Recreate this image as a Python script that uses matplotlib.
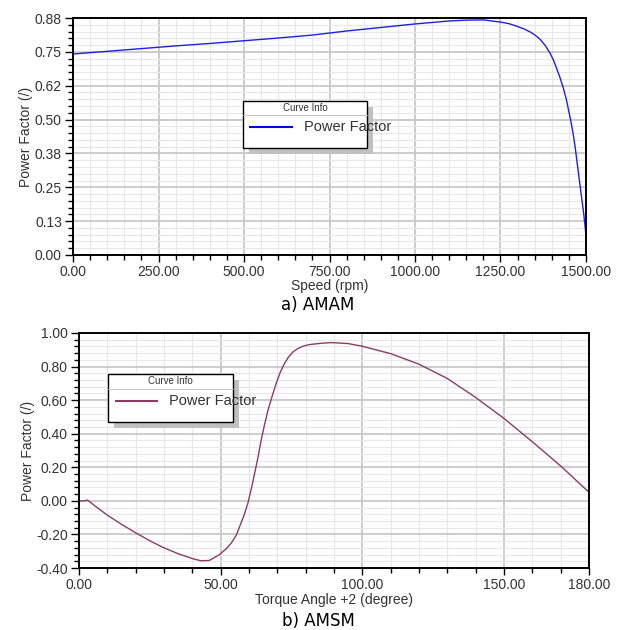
""" Power factor curves - AMAM vs AMSM """
import matplotlib
matplotlib.use('Agg')
import matplotlib.pyplot as plt
from matplotlib.patches import Rectangle
from matplotlib.lines import Line2D
from matplotlib.ticker import MultipleLocator

# a) AMAM: power factor vs speed
SPEED = [0, 100, 200, 300, 400, 500, 600, 700, 800, 900, 1000, 1100, 1150,
         1200, 1250, 1275, 1297, 1320, 1336, 1352, 1366, 1381, 1395, 1405,
         1414, 1424, 1434, 1442, 1449, 1456, 1462, 1468, 1473, 1478, 1483,
         1488, 1493, 1497, 1500]
PF_AMAM = [0.742, 0.752, 0.762, 0.772, 0.781, 0.791, 0.801, 0.812, 0.827,
           0.840, 0.853, 0.864, 0.867, 0.868, 0.860, 0.854, 0.845, 0.834,
           0.824, 0.811, 0.796, 0.773, 0.745, 0.719, 0.689, 0.655, 0.615,
           0.577, 0.535, 0.493, 0.450, 0.401, 0.351, 0.302, 0.252, 0.204,
           0.155, 0.110, 0.070]
Y_TICKS_A = [0, 0.125, 0.25, 0.375, 0.5, 0.625, 0.75, 0.875]
Y_LABELS_A = ['0.00', '0.13', '0.25', '0.38', '0.50', '0.62', '0.75', '0.88']
X_TICKS_A = [0, 250, 500, 750, 1000, 1250, 1500]

# b) AMSM: power factor vs torque angle
ANGLE = [0, 2, 3, 6, 10, 15, 20, 25, 30, 35, 40, 43, 46, 49.6, 52, 53.8,
         55.5, 56.7, 58.2, 59.6, 61, 62, 63.2, 64.3, 65.5, 66.7, 68.2, 69.6,
         71, 72.5, 74, 75.5, 77.2, 79, 81.3, 85, 89, 95, 100, 110, 120, 130,
         140, 150, 160, 170, 180]
PF_AMSM = [0.0, 0.0, 0.005, -0.035, -0.085, -0.14, -0.19, -0.238, -0.28,
           -0.315, -0.344, -0.357, -0.355, -0.32, -0.285, -0.25, -0.205,
           -0.153, -0.088, -0.014, 0.085, 0.165, 0.262, 0.362, 0.455, 0.54,
           0.625, 0.70, 0.765, 0.818, 0.858, 0.887, 0.907, 0.921, 0.931,
           0.938, 0.943, 0.937, 0.921, 0.877, 0.814, 0.729, 0.616, 0.491,
           0.352, 0.208, 0.051]
Y_TICKS_B = [-0.4, -0.2, 0.0, 0.2, 0.4, 0.6, 0.8, 1.0]
X_TICKS_B = [0, 50, 100, 150, 180]

plt.rcParams['font.family'] = ['Liberation Sans', 'DejaVu Sans']


def style_axes(ax):
    """Grid, spines and ticks in the simulator look"""
    ax.grid(which='major', color='#c8c8c8', linewidth=1.3)
    ax.grid(which='minor', color='#e8e8e8', linewidth=0.9)
    ax.set_axisbelow(True)
    for sp in ax.spines.values():
        sp.set_linewidth(1.4)
        sp.set_color('black')
    ax.tick_params(which='major', direction='out', width=1,
                   labelsize=10, colors='black', labelcolor='#333333')
    ax.tick_params(axis='x', which='major', length=5, pad=2)
    ax.tick_params(axis='y', which='major', length=6, pad=2)
    ax.tick_params(which='minor', direction='out', length=3.5, width=1)


def legend_box(ax, x0, y0, w, h, color):
    """Curve Info box with a drop shadow (axes fraction coords)"""
    sx, sy = 0.012, 0.025
    ax.add_patch(Rectangle((x0 + sx, y0 - sy), w, h, transform=ax.transAxes,
                           facecolor='#c0c0c0', edgecolor='none', zorder=5))
    ax.add_patch(Rectangle((x0, y0), w, h, transform=ax.transAxes,
                           facecolor='white', edgecolor='black',
                           linewidth=1.0, zorder=6))
    ax.text(x0 + w / 2, y0 + h * 0.86, 'Curve Info', transform=ax.transAxes,
            ha='center', va='center', fontsize=7, color='#333333', zorder=7)
    ax.add_line(Line2D([x0, x0 + w], [y0 + h * 0.7, y0 + h * 0.7],
                       transform=ax.transAxes, color='#bbbbbb',
                       linewidth=0.6, zorder=7))
    ax.add_line(Line2D([x0 + 0.015, x0 + 0.095], [y0 + h * 0.45] * 2,
                       transform=ax.transAxes, color=color,
                       linewidth=1.5, zorder=7))
    ax.text(x0 + 0.12, y0 + h * 0.45, 'Power Factor', transform=ax.transAxes,
            ha='left', va='center', fontsize=10.5, color='#333333', zorder=7)


fig = plt.figure(figsize=(6.17, 6.30), dpi=100)

# top panel
ax1 = fig.add_axes([73 / 617, 1 - 255 / 630, 513 / 617, 237 / 630])
ax1.plot(SPEED, PF_AMAM, color='#2020e0', linewidth=1.0)
ax1.set_xlim(0, 1500)
ax1.set_ylim(0, 0.875)
ax1.set_xticks(X_TICKS_A)
ax1.set_xticklabels(['%.2f' % v for v in X_TICKS_A])
ax1.set_yticks(Y_TICKS_A)
ax1.set_yticklabels(Y_LABELS_A)
ax1.xaxis.set_minor_locator(MultipleLocator(50))
ax1.yaxis.set_minor_locator(MultipleLocator(0.025))
style_axes(ax1)
ax1.set_xlabel('Speed (rpm)', fontsize=10, color='#333333', labelpad=0)
ax1.set_ylabel('Power Factor (/)', fontsize=10, color='#333333', labelpad=1)
legend_box(ax1, 0.331, 0.45, 0.242, 0.2, 'blue')

# bottom panel
ax2 = fig.add_axes([79 / 617, 1 - 568 / 630, 510 / 617, 235 / 630])
ax2.plot(ANGLE, PF_AMSM, color='#8c3c64', linewidth=1.0)
ax2.set_xlim(0, 180)
ax2.set_ylim(-0.4, 1.0)
ax2.set_xticks(X_TICKS_B)
ax2.set_xticklabels(['%.2f' % v for v in X_TICKS_B])
ax2.set_yticks(Y_TICKS_B)
ax2.set_yticklabels(['%.2f' % v for v in Y_TICKS_B])
ax2.xaxis.set_minor_locator(MultipleLocator(10))
ax2.yaxis.set_minor_locator(MultipleLocator(0.04))
style_axes(ax2)
ax2.set_xlabel('Torque Angle +2 (degree)', fontsize=10, color='#333333',
               labelpad=1)
ax2.set_ylabel('Power Factor (/)', fontsize=10, color='#333333', labelpad=1)
legend_box(ax2, 0.057, 0.62, 0.245, 0.205, '#8c3c64')

fig.text(318 / 617, 1 - 305 / 630, 'a) AMAM', ha='center', va='center',
         fontsize=12, family='DejaVu Sans')
fig.text(318 / 617, 1 - 621 / 630, 'b) AMSM', ha='center', va='center',
         fontsize=12, family='DejaVu Sans')

fig.savefig('out.png', dpi=100)
